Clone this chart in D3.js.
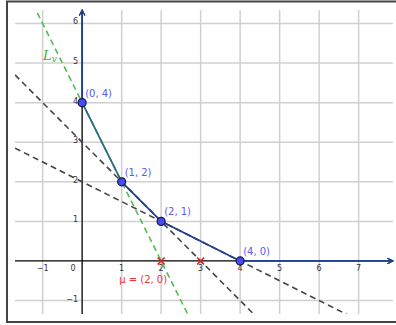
<!DOCTYPE html>
<html lang="en">
<head>
    <meta charset="UTF-8">
    <title>Pareto front</title>
    <script src="https://cdnjs.cloudflare.com/ajax/libs/d3/7.8.5/d3.min.js"></script>
    <style>
        body { margin: 0; background: #fff; font-family: "DejaVu Sans", sans-serif; }
        .grid line { stroke: #d0d0d0; stroke-width: 1.5; }
        .tick-label { font-size: 8px; fill: #333; }
        .pt-label { font-size: 10px; fill: #5b5bf0; }
    </style>
</head>
<body>
    <div id="chart"></div>
    <script>
        // Data
        const xTicks = [-1, 0, 1, 2, 3, 4, 5, 6, 7];
        const yTicks = [-1, 1, 2, 3, 4, 5, 6];
        const frontX = [0, 1, 2, 4];
        const frontY = [4, 2, 1, 0];
        const frontLabels = ["(0, 4)", "(1, 2)", "(2, 1)", "(4, 0)"];
        const dashSlopes = [-1, -0.5];
        const dashIntercepts = [3, 2];
        const lvSlope = -2;
        const lvIntercept = 4;
        const crossX = [2, 3];
        const muLabel = "μ = (2, 0)";

        const W = 396, H = 325;
        const svg = d3.select("#chart").append("svg")
            .attr("width", W).attr("height", H);

        // frame
        svg.append("rect").attr("x", 7).attr("y", 1.5).attr("width", 400).attr("height", 320.5)
            .attr("fill", "#fff").attr("stroke", "#444").attr("stroke-width", 2);

        const x = d3.scaleLinear().domain([-1.7, 7.87]).range([15, 393]);
        const y = d3.scaleLinear().domain([-1.34, 6.34]).range([314, 10]);

        const defs = svg.append("defs");
        function arrow(id, color) {
            defs.append("marker").attr("id", id)
                .attr("viewBox", "0 0 10 10").attr("refX", 9).attr("refY", 5)
                .attr("markerWidth", 7).attr("markerHeight", 7)
                .attr("markerUnits", "userSpaceOnUse")
                .attr("orient", "auto")
                .append("path").attr("d", "M1,1 L9,5 L1,9")
                .attr("fill", "none").attr("stroke", color).attr("stroke-width", 1.5);
        }
        arrow("arrK", "#000");
        arrow("arrB", "#1f3f8f");

        // grid
        const grid = svg.append("g").attr("class", "grid");
        grid.selectAll(".gx").data(xTicks).join("line")
            .attr("x1", d => x(d)).attr("x2", d => x(d))
            .attr("y1", y.range()[1]).attr("y2", y.range()[0]);
        grid.selectAll(".gy").data(yTicks).join("line")
            .attr("y1", d => y(d)).attr("y2", d => y(d))
            .attr("x1", x.range()[0]).attr("x2", x.range()[1]);

        // axes
        svg.append("line").attr("x1", x.range()[0]).attr("x2", x.range()[1])
            .attr("y1", y(0)).attr("y2", y(0))
            .attr("stroke", "#000").attr("stroke-width", 1.2).attr("marker-end", "url(#arrK)");
        svg.append("line").attr("x1", x(0)).attr("x2", x(0))
            .attr("y1", y.range()[0]).attr("y2", y.range()[1])
            .attr("stroke", "#000").attr("stroke-width", 1.2).attr("marker-end", "url(#arrK)");

        svg.selectAll(".xl").data(xTicks).join("text")
            .attr("class", "tick-label")
            .attr("x", d => d === 0 ? x(d) - 9 : x(d))
            .attr("y", y(0) + 10)
            .attr("text-anchor", "middle")
            .text(d => d < 0 ? "\u2212" + Math.abs(d) : d);
        svg.selectAll(".yl").data(yTicks).join("text")
            .attr("class", "tick-label")
            .attr("x", x(0) - 4)
            .attr("y", d => y(d) + 1)
            .attr("text-anchor", "end")
            .text(d => d < 0 ? "\u2212" + Math.abs(d) : d);

        // dashed lines, clipped to plot area
        svg.append("clipPath").attr("id", "plot").append("rect")
            .attr("x", 15).attr("y", 10).attr("width", 378).attr("height", 304);
        const lines = svg.append("g").attr("clip-path", "url(#plot)");
        const xd = x.domain();
        dashSlopes.forEach((m, i) => {
            const b = dashIntercepts[i];
            lines.append("line")
                .attr("x1", x(xd[0])).attr("y1", y(m * xd[0] + b))
                .attr("x2", x(xd[1])).attr("y2", y(m * xd[1] + b))
                .attr("stroke", "#444").attr("stroke-width", 1.6)
                .attr("stroke-dasharray", "6,4");
        });
        lines.append("line")
            .attr("x1", x(xd[0])).attr("y1", y(lvSlope * xd[0] + lvIntercept))
            .attr("x2", x(xd[1])).attr("y2", y(lvSlope * xd[1] + lvIntercept))
            .attr("stroke", "#55bb55").attr("stroke-width", 1.6)
            .attr("stroke-dasharray", "6,4");

        // L_v label
        const lv = svg.append("text").attr("x", 43).attr("y", 60)
            .attr("fill", "#44aa44").attr("font-family", "DejaVu Serif, serif")
            .attr("font-style", "italic").attr("font-size", 13);
        lv.append("tspan").text("L");
        lv.append("tspan").attr("font-size", 9).attr("dy", 2).text("v");

        // pareto front
        const pts = frontX.map((d, i) => [d, frontY[i]]);
        svg.append("line")
            .attr("x1", x(0)).attr("y1", y(4)).attr("x2", x(0)).attr("y2", y.range()[1])
            .attr("stroke", "#1f3f8f").attr("stroke-width", 1.8).attr("marker-end", "url(#arrB)");
        svg.append("line")
            .attr("x1", x(4)).attr("y1", y(0)).attr("x2", x.range()[1]).attr("y2", y(0))
            .attr("stroke", "#1f3f8f").attr("stroke-width", 1.8).attr("marker-end", "url(#arrB)");
        const lineGen = d3.line().x(d => x(d[0])).y(d => y(d[1]));
        svg.append("path").datum(pts.slice(0, 2)).attr("d", lineGen)
            .attr("fill", "none").attr("stroke", "#2a6a80").attr("stroke-width", 1.8);
        svg.append("path").datum(pts.slice(1)).attr("d", lineGen)
            .attr("fill", "none").attr("stroke", "#1f3f8f").attr("stroke-width", 1.8);

        // crosses
        svg.selectAll(".cross").data(crossX).join("path")
            .attr("d", d => {
                const cx = x(d), cy = y(0), s = 3.5;
                return `M${cx - s},${cy - s}L${cx + s},${cy + s}M${cx - s},${cy + s}L${cx + s},${cy - s}`;
            })
            .attr("stroke", "#e02020").attr("stroke-width", 1.6);
        svg.append("text").attr("x", x(2) - 18).attr("y", y(0) + 22)
            .attr("text-anchor", "middle").attr("fill", "#ee3333")
            .attr("font-size", 10).text(muLabel);

        // points
        svg.selectAll(".pt").data(pts).join("circle")
            .attr("cx", d => x(d[0])).attr("cy", d => y(d[1])).attr("r", 4)
            .attr("fill", "#4a4af5").attr("stroke", "#111a40").attr("stroke-width", 1.2);
        svg.selectAll(".plab").data(pts).join("text")
            .attr("class", "pt-label")
            .attr("x", d => x(d[0]) + 3)
            .attr("y", d => y(d[1]) - 6)
            .text((d, i) => frontLabels[i]);
    </script>
</body>
</html>
